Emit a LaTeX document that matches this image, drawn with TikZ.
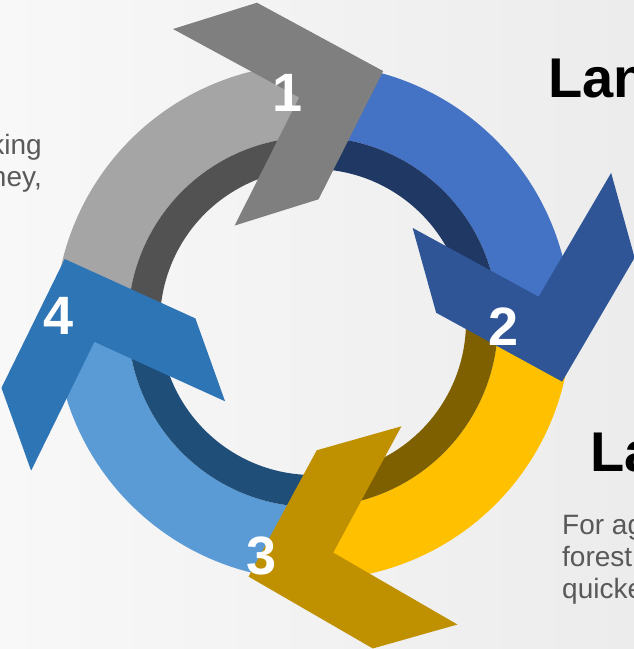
\documentclass[tikz,border=0pt]{standalone}
\usepackage{fontspec}
\setmainfont{Liberation Sans}
\usepackage{color}
\usepackage{tikz}
\definecolor{greyL}{HTML}{A5A5A5}
\definecolor{greyD}{HTML}{525252}
\definecolor{greyC}{HTML}{7F7F7F}
\definecolor{blueL}{HTML}{4472C4}
\definecolor{blueD}{HTML}{203864}
\definecolor{blueC}{HTML}{2F5597}
\definecolor{goldL}{HTML}{FFC000}
\definecolor{goldD}{HTML}{7F6000}
\definecolor{goldC}{HTML}{BF9000}
\definecolor{skyL}{HTML}{5B9BD5}
\definecolor{skyD}{HTML}{1F4E79}
\definecolor{skyC}{HTML}{2E75B6}
\definecolor{bodygrey}{HTML}{595959}
\definecolor{bgleft}{HTML}{F8F8F8}
\definecolor{bgright}{HTML}{ECECEC}

\begin{document}
\begin{tikzpicture}[x=1pt, y=1pt,
	num/.style={text=white, font=\fontsize{54}{54}\selectfont\bfseries, inner sep=0pt},
	head/.style={text=black, font=\fontsize{56}{56}\selectfont\bfseries, anchor=base west, inner sep=0pt},
	body/.style={text=bodygrey, font=\fontsize{28}{32}\selectfont, inner sep=0pt}]
				\clip (0,0) rectangle (634,649);
				\shade [left color=bgleft, right color=bgright] (0,0) rectangle (634,649);
				\fill [greyL, shift={(313,327)}] (181.7:258) arc [start angle=181.7, end angle=90.1, radius=258pt] -- (90.1:185) arc [start angle=90.1, end angle=181.7, radius=185pt] -- cycle;
				\fill [greyD, shift={(313,327)}] (181.7:185) arc [start angle=181.7, end angle=90.1, radius=185pt] -- (90.1:153) arc [start angle=90.1, end angle=181.7, radius=153pt] -- cycle;
				\fill [blueL, shift={(313,327)}] (90.1:258) arc [start angle=90.1, end angle=2.9, radius=258pt] -- (2.9:185) arc [start angle=2.9, end angle=90.1, radius=185pt] -- cycle;
				\fill [blueD, shift={(313,327)}] (90.1:185) arc [start angle=90.1, end angle=2.9, radius=185pt] -- (2.9:153) arc [start angle=2.9, end angle=90.1, radius=153pt] -- cycle;
				\fill [goldL, shift={(313,327)}] (2.9:258) arc [start angle=2.9, end angle=-88.35, radius=258pt] -- (-88.35:185) arc [start angle=-88.35, end angle=2.9, radius=185pt] -- cycle;
				\fill [goldD, shift={(313,327)}] (2.9:185) arc [start angle=2.9, end angle=-88.35, radius=185pt] -- (-88.35:153) arc [start angle=-88.35, end angle=2.9, radius=153pt] -- cycle;
				\fill [skyL, shift={(313,327)}] (-88.35:258) arc [start angle=-88.35, end angle=-178.3, radius=258pt] -- (-178.3:185) arc [start angle=-178.3, end angle=-88.35, radius=185pt] -- cycle;
				\fill [skyD, shift={(313,327)}] (-88.35:185) arc [start angle=-88.35, end angle=-178.3, radius=185pt] -- (-178.3:153) arc [start angle=-178.3, end angle=-88.35, radius=153pt] -- cycle;
				\fill [greyC, shift={(293.5,549.8)}, rotate=17.4] (-94,103) -- (-6,103) -- (94,0) -- (-6,-103) -- (-94,-103) -- (6,0) -- cycle;
				\fill [blueC, shift={(537,358)}, rotate=-74.5] (-94,103) -- (-6,103) -- (94,0) -- (-6,-103) -- (-94,-103) -- (6,0) -- cycle;
				\fill [goldC, shift={(339,98)}, rotate=195.8] (-94,103) -- (-6,103) -- (94,0) -- (-6,-103) -- (-94,-103) -- (6,0) -- cycle;
				\fill [skyC, shift={(96.4,301.5)}, rotate=109.7] (-94,103) -- (-6,103) -- (94,0) -- (-6,-103) -- (-94,-103) -- (6,0) -- cycle;
				\node [num] (n1) at (288,556) {1};
				\node [num] (n2) at (504,322) {2};
				\node [num] (n3) at (262,93) {3};
				\node [num] (n4) at (59,333) {4};
				\node [head] (land1) at (548,551) {Lan};
				\node [head] (land2) at (590,177) {La};
				\node [body, anchor=base west] (txt1) at (562,114) {For ag};
				\node [body, anchor=base west] (txt2) at (562,82) {forest};
				\node [body, anchor=base west] (txt3) at (562,50) {quicke};
				\node [body, anchor=base east] (left1) at (42,494) {king};
				\node [body, anchor=base east] (left2) at (42,462) {ney,};
				\end{tikzpicture}
\end{document}
